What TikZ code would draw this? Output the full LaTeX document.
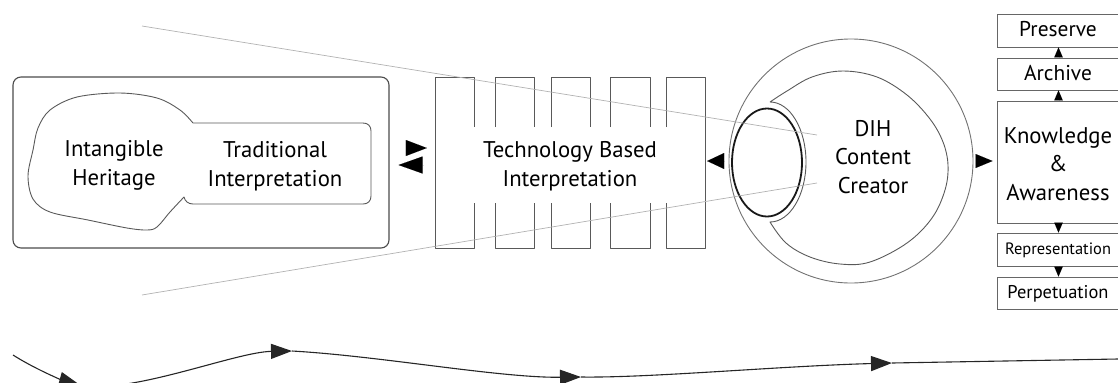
\documentclass[tikz,border=0pt]{standalone}
\usepackage{fontspec}
\setmainfont{PT Sans}
\usetikzlibrary{arrows.meta,calc}

\begin{document}
\begin{tikzpicture}[x=1bp,y=-1bp,
    every node/.style={inner sep=0pt, text=black},
    lbl/.style={align=center, anchor=base, font=\fontsize{22.8}{28.5}\selectfont},
    outline/.style={draw=black!65, line width=0.9bp, line join=round},
    sidebox/.style={draw=black!60, line width=0.9bp, minimum width=123bp},
    head/.style={-{Triangle[length=#1,width=#1*0.85]}, line width=0.01bp},
    flow/.style={draw=black!85, line width=1.1bp, -{Triangle[length=21bp,width=15bp]}},
    sight/.style={draw=black!30, line width=0.7bp}]

\useasboundingbox (0,0) rectangle (1118,382);
\clip (0,0) rectangle (1118,382);

% ---------- left panel: heritage and its traditional reading ----------
\node[draw=black!70, line width=1.1bp, rounded corners=8bp,
      minimum width=376bp, minimum height=171bp] (box) at (201,162.5) {};

\draw[outline]
  (193,123) -- (363,123) .. controls (368,123) and (371,126) .. (371,131)
  -- (371,196) .. controls (371,201) and (368,204) .. (363,204)
  -- (193,204) .. controls (188,204) and (185,201) .. (184,197)
  -- plot[smooth, tension=0.55] coordinates {
      (184,197) (170,212) (157,227) (147,230) (127,228) (88,220) (50,212)
      (33,199) (28,176) (33,150) (38,128) (50,110) (77,97) (120,93)
      (157,98) (180,110) (193,123)};

% multi-line labels are placed by the baseline of their last line
\node[lbl] (ih) at (114,185) {Intangible\\Heritage};
\node[lbl] (ti) at (275,186) {Traditional\\Interpretation};

% ---------- technology columns ----------
\node[minimum width=270bp, minimum height=171bp] (tech) at (570,162.5) {};
\foreach \xl/\xr in {435/474, 495/534, 551/590, 610/650, 666/705} {
  \draw[outline] (\xl,127) -- (\xl,77) -- (\xr,77) -- (\xr,127);
  \draw[outline] (\xl,203) -- (\xl,248) -- (\xr,248) -- (\xr,203);
}
\draw[outline] (435,127) -- (435,203);
\draw[outline] (705,127) -- (705,203);
\node[lbl] (tbi) at (570,186) {Technology Based\\Interpretation};

% ---------- content creator ----------
\node[circle, draw=black!55, line width=0.9bp, minimum size=244bp] (eye) at (851,161) {};
\draw[outline]
  plot[smooth, tension=0.6] coordinates {
      (770,102) (787,91) (812,77) (843,71) (877,77) (907,95) (930,119)
      (943,142) (948,165) (945,190) (932,218) (907,243) (870,262)
      (840,264) (810,257) (786,243) (770,222)}
  .. controls (790,222) and (806,195) .. (806,162)
  .. controls (806,129) and (790,102) .. (770,102);
\draw[black!90, line width=1.8bp] (767,162.5) ellipse [x radius=35, y radius=54];
\node[lbl] (dih) at (873,193) {DIH\\Content\\Creator};

% ---------- outcome stack ----------
\node[sidebox, minimum height=33bp] (pres) at (1058.5,30.5) {};
\node[sidebox, minimum height=32bp] (arch) at (1058.5,74) {};
\node[sidebox, minimum height=122bp] (know) at (1058.5,162) {};
\node[sidebox, minimum height=33bp] (repr) at (1058.5,249.5) {};
\node[sidebox, minimum height=32bp] (perp) at (1058.5,293) {};
\node[anchor=base, font=\fontsize{21.5}{24}\selectfont] (prest) at (1058,36) {Preserve};
\node[anchor=base, font=\fontsize{21.5}{24}\selectfont] (archt) at (1058,80) {Archive};
\node[lbl] (knowt) at (1058,200) {Knowledge\\\&\\Awareness};
\node[anchor=base, font=\fontsize{16.5}{20}\selectfont] (reprt) at (1058,254) {Representation};
\node[anchor=base, font=\fontsize{18.5}{22}\selectfont] (perpt) at (1058,298) {Perpetuation};

\draw[head=10bp] (arch.north) -- (pres.south);
\draw[head=10bp] (know.north) -- (arch.south);
\draw[head=10bp] (know.south) -- (repr.north);
\draw[head=10bp] (repr.south) -- (perp.north);

% ---------- exchanges between the stages ----------
\draw[-{Triangle[length=21bp,width=16bp]}, line width=0.01bp, shorten <=17bp, shorten >=8bp]
  (box.east |- 0,148) -- (tech.west |- 0,148);
\draw[-{Triangle[length=24bp,width=17bp]}, line width=0.01bp, shorten <=12bp, shorten >=9bp]
  (tech.west |- 0,165) -- (box.east |- 0,165);
\draw[-{Triangle[length=17bp,width=16bp]}, line width=0.01bp, shorten <=4bp, shorten >=2bp]
  (eye.west) -- (tech.east |- eye.west);
\draw[-{Triangle[length=17bp,width=14bp]}, line width=0.01bp, shorten <=3bp, shorten >=4bp]
  (eye.east) -- (know.west |- eye.east);

% ---------- field of view ----------
\coordinate (v1) at (142,26);
\coordinate (v2) at (142,295);
\coordinate (f1) at (817,135);
\coordinate (f2) at (817,183);
\draw[sight] (v1) -- (f1);
\draw[sight] (v2) -- (f2);

% ---------- flow along the bottom ----------
\coordinate (w0) at (13,355);
\coordinate (w1) at (80,385);
\coordinate (w2) at (292,351);
\coordinate (w3) at (581,377);
\coordinate (w4) at (892,363);
\coordinate (w5) at (1118,359);
\draw[flow] (w0) .. controls (35,369) and (62,380) .. (w1);
\draw[flow] (w1) .. controls (130,395) and (235,352) .. (w2);
\draw[flow] (w2) .. controls (380,356) and (500,378) .. (w3);
\draw[flow] (w3) .. controls (650,378) and (780,366) .. (w4);
\draw[draw=black!85, line width=1.1bp] (w4) -- (w5);

\end{tikzpicture}
\end{document}
